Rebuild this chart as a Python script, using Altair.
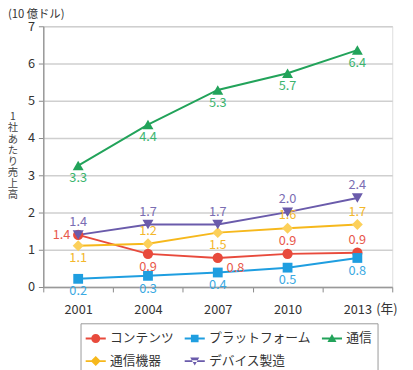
import altair as alt
import pandas as pd

years = ["2001", "2004", "2007", "2010", "2013"]
series_names = ["コンテンツ", "プラットフォーム", "通信", "通信機器", "デバイス製造"]
contents = [1.40, 0.89, 0.78, 0.89, 0.92]
platform = [0.22, 0.30, 0.39, 0.52, 0.78]
telecom = [3.26, 4.36, 5.29, 5.74, 6.36]
equipment = [1.11, 1.16, 1.46, 1.58, 1.68]
devices = [1.40, 1.68, 1.68, 2.01, 2.39]

# label placement per point
place_contents = ["left", "below", "belowright", "above", "above"]
place_platform = ["below", "below", "below", "below", "below"]
place_telecom = ["below", "below", "below", "below", "below"]
place_equipment = ["below", "above", "below", "above", "above"]
place_devices = ["above", "above", "above", "above", "above"]

colors = ["#e84a3c", "#1f9ee0", "#22a35a", "#fcd05a", "#6a5bab"]
line_colors = ["#e84a3c", "#1f9ee0", "#22a35a", "#f6b81c", "#6a5bab"]
label_colors = ["#e8594c", "#3aa9e2", "#3bb46e", "#f3b72b", "#7a6db3"]
shapes = ["circle", "square", "triangle-up", "diamond", "triangle-down"]
y_title_chars = list("1社あたり売上高")

values = [contents, platform, telecom, equipment, devices]
places = [place_contents, place_platform, place_telecom, place_equipment, place_devices]

rows = []
for s, vals, pl in zip(series_names, values, places):
    for y, v, p in zip(years, vals, pl):
        rows.append({"year": y, "series": s, "value": v, "place": p})
df = pd.DataFrame(rows)

FONT = "Noto Sans CJK JP"

x_enc = alt.X("year:N", scale=alt.Scale(paddingInner=0, paddingOuter=0),
              axis=alt.Axis(title="(年)", titleAngle=0, titleX=350, titleY=22,
                            titleFontWeight="normal", titleFontSize=13, titleColor="#333",
                            titleBaseline="middle", titleAlign="center",
                            labelAngle=0, labelFontSize=13, labelColor="#333", labelPadding=12,
                            tickBand="extent", tickSize=5, tickColor="#888",
                            domainColor="#999", domainWidth=1.5, grid=False))
y_enc = alt.Y("value:Q", scale=alt.Scale(domain=[0, 7], nice=False),
              axis=alt.Axis(values=[0, 1, 2, 3, 4, 5, 6, 7], title=None,
                            labelFontSize=13, labelColor="#333", labelPadding=4,
                            tickSize=5, tickColor="#888", domainColor="#999", domainWidth=1.5,
                            gridColor="#cfcfcf", gridWidth=1.5))

color_scale = alt.Scale(domain=series_names, range=line_colors)
fill_scale = alt.Scale(domain=series_names, range=colors)
label_scale = alt.Scale(domain=series_names, range=label_colors)

# legend symbol paths: line + marker
p_line = "M-1,-0.09H1V0.09H-1Z "
leg_paths = [
    p_line + "M0.45,0A0.45,0.45,0,1,1,-0.45,0A0.45,0.45,0,1,1,0.45,0Z",
    p_line + "M-0.38,-0.38H0.38V0.38H-0.38Z",
    p_line + "M0,-0.45L0.45,0.35L-0.45,0.35Z",
    p_line + "M0,-0.5L0.5,0L0,0.5L-0.5,0Z",
    p_line + "M0,0.45L0.45,-0.35L-0.45,-0.35Z",
]

leg = alt.Legend(
    title=None, orient="none", legendX=38, legendY=303,
    direction="horizontal", columns=3, gridAlign="none",
    columnPadding=10, rowPadding=5,
    labelFont=FONT, labelFontSize=13, labelColor="#333",
    labelOffset=4, symbolSize=420, symbolStrokeWidth=0,
    symbolOpacity=1, padding=5, strokeColor="#999")

base = alt.Chart(df)

legend_layer = base.transform_filter(alt.datum.year == "2001").mark_point(
    filled=True, size=0
).encode(
    x=x_enc, y=y_enc,
    color=alt.Color("series:N", scale=color_scale, legend=leg),
    shape=alt.Shape("series:N", scale=alt.Scale(domain=series_names, range=leg_paths),
                    legend=leg),
)

lines = base.mark_line(strokeWidth=2).encode(
    x=x_enc, y=y_enc,
    color=alt.Color("series:N", scale=color_scale, legend=None),
    detail="series:N",
)

point_layers = [
    base.transform_filter(alt.datum.series == s).mark_point(
        filled=True, opacity=1, size=sz, shape=sh
    ).encode(
        x=x_enc, y=y_enc,
        fill=alt.Fill("series:N", scale=fill_scale, legend=None),
    )
    for s, sh, sz in zip(series_names, shapes, [110, 100, 125, 125, 125])
]

def labels(place, **kw):
    return base.transform_filter(alt.datum.place == place).mark_text(
        font=FONT, fontSize=13, baseline="middle", **kw
    ).encode(
        x=x_enc, y=y_enc,
        text=alt.Text("value:Q", format=".1f"),
        color=alt.Color("series:N", scale=label_scale, legend=None),
    )

lab_above = labels("above", dy=-13)
lab_below = labels("below", dy=13)
lab_left = labels("left", dx=-17)
lab_br = labels("belowright", dx=18, dy=10)

y_title = alt.Chart(pd.DataFrame({"ch": y_title_chars, "i": list(range(len(y_title_chars)))})).transform_calculate(
    py="93 + datum.i * 11.3"
).mark_text(
    font=FONT, fontSize=10.5, baseline="middle", align="center", color="#444"
).encode(text="ch:N", x=alt.value(-31), y=alt.Y("py:Q", scale=None, axis=None))

main = alt.layer(lines, *point_layers)

chart = alt.layer(legend_layer, main, lab_above, lab_below, lab_left, lab_br, y_title).resolve_scale(
    color="independent", shape="independent"
).properties(
    width=356, height=266,
    autosize=alt.AutoSizeParams(type="none"),
    padding={"left": 36, "top": 15, "right": 13, "bottom": 81},
    title=alt.TitleParams("(10 億ドル)", anchor="start", frame="group", dx=-36, offset=0,
                          font=FONT, fontSize=11.5, fontWeight="normal", color="#333"),
).configure_view(stroke=None).configure(font=FONT)

chart.save("out.html", embed_options={"renderer": "svg", "actions": False})
